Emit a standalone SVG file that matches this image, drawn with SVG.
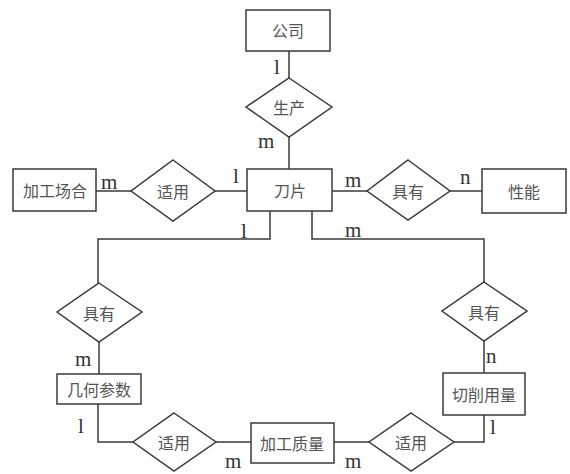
<svg xmlns="http://www.w3.org/2000/svg" width="570" height="474" viewBox="0 0 570 474">
<style>
.ent rect{fill:#fff;stroke:#3a3a3a;stroke-width:1.5}
.rel polygon{fill:#fff;stroke:#3a3a3a;stroke-width:1.5}
.lbl{font-family:"Noto Sans CJK SC","Noto Sans CJK TC",sans-serif;font-size:16px;fill:#555;text-anchor:middle;dominant-baseline:central}
#connectors path{fill:none;stroke:#3a3a3a;stroke-width:1.5}
.card{font-family:"Liberation Serif",serif;font-size:21px;fill:#333}
</style>
<rect width="570" height="474" fill="#fff"/>
<g id="connectors">
<path d="M289,51 V78"/>
<path d="M289,137 V169"/>
<path d="M96,191 H131"/>
<path d="M215,191 H247"/>
<path d="M332,191 H367"/>
<path d="M450,191 H482"/>
<path d="M270,211 V239 H98 V283"/>
<path d="M312,211 V239 H484 V282"/>
<path d="M99,342 V374"/>
<path d="M484,341 V373"/>
<path d="M98,404 V442 H133"/>
<path d="M216,442 H251"/>
<path d="M334,442 H369"/>
<path d="M454,442 H484 V415"/>
<text class="card" x="274" y="74">l</text>
<text class="card" x="258" y="148">m</text>
<text class="card" x="101" y="189">m</text>
<text class="card" x="233" y="183">l</text>
<text class="card" x="345" y="187">m</text>
<text class="card" x="460" y="184">n</text>
<text class="card" x="241" y="238">l</text>
<text class="card" x="345" y="237">m</text>
<text class="card" x="75" y="366">m</text>
<text class="card" x="486" y="363">n</text>
<text class="card" x="78" y="433">l</text>
<text class="card" x="490" y="434">l</text>
<text class="card" x="225" y="468">m</text>
<text class="card" x="345" y="468">m</text>
</g>
<g id="gongsi" class="ent"><rect x="246" y="10" width="84" height="41"/><text class="lbl" x="288" y="30">公司</text></g>
<g id="shengchan" class="rel"><polygon points="289,78 332,107 289,137 246,107"/><text class="lbl" x="289" y="107">生产</text></g>
<g id="daopian" class="ent"><rect x="247" y="169" width="85" height="42"/><text class="lbl" x="290" y="190">刀片</text></g>
<g id="jiagongchanghe" class="ent"><rect x="13" y="169" width="83" height="42"/><text class="lbl" x="55" y="190">加工场合</text></g>
<g id="shiyong1" class="rel"><polygon points="173,160 215,191 173,221 131,191"/><text class="lbl" x="173" y="191">适用</text></g>
<g id="juyou1" class="rel"><polygon points="408,160 450,191 408,220 367,191"/><text class="lbl" x="408" y="191">具有</text></g>
<g id="xingneng" class="ent"><rect x="482" y="169" width="84" height="44"/><text class="lbl" x="524" y="191">性能</text></g>
<g id="juyou2" class="rel"><polygon points="99,283 142,312 99,342 57,312"/><text class="lbl" x="99" y="313">具有</text></g>
<g id="juyou3" class="rel"><polygon points="484,282 527,311 484,341 442,311"/><text class="lbl" x="484" y="312">具有</text></g>
<g id="jihecanshu" class="ent"><rect x="57" y="374" width="84" height="30"/><text class="lbl" x="99" y="389">几何参数</text></g>
<g id="qiexiaoyongliang" class="ent"><rect x="443" y="373" width="82" height="42"/><text class="lbl" x="484" y="394">切削用量</text></g>
<g id="shiyong2" class="rel"><polygon points="174,413 216,442 174,471 133,442"/><text class="lbl" x="174" y="442">适用</text></g>
<g id="jiagongzhiliang" class="ent"><rect x="251" y="423" width="83" height="40"/><text class="lbl" x="292" y="443">加工质量</text></g>
<g id="shiyong3" class="rel"><polygon points="411,413 454,442 411,471 369,442"/><text class="lbl" x="411" y="442">适用</text></g>
</svg>
